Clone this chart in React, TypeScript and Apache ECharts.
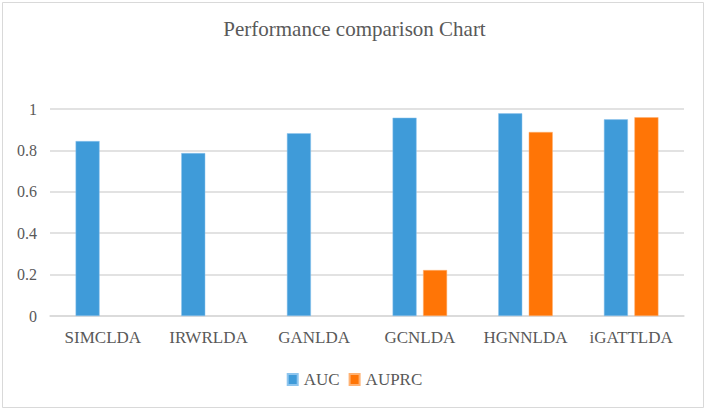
import React, { useEffect, useRef } from "react";
import * as echarts from "echarts";

const categories = ["SIMCLDA", "IRWRLDA", "GANLDA", "GCNLDA", "HGNNLDA", "iGATTLDA"];
const aucValues = [0.845, 0.787, 0.883, 0.958, 0.979, 0.95];
const auprcValues = [null, null, null, 0.222, 0.889, 0.96];
const yTicks = { min: 0, max: 1, interval: 0.2 };

const FONT = "'Liberation Serif', 'Times New Roman', serif";
const TEXT = "#595959";

export default function App() {
  const ref = useRef<HTMLDivElement>(null);
  useEffect(() => {
    if (!ref.current) return;
    const chart = echarts.init(ref.current, null, { renderer: "svg" });
    chart.setOption({
      animation: false,
      backgroundColor: "#ffffff",
      textStyle: { fontFamily: FONT },
      title: {
        text: "Performance comparison Chart",
        left: "center",
        top: 13,
        textStyle: { fontFamily: FONT, fontSize: 21, fontWeight: "normal", color: TEXT },
      },
      graphic: [
        {
          type: "rect",
          shape: { x: 2.5, y: 2.5, width: 701, height: 405 },
          style: { fill: "none", stroke: "#d9d9d9", lineWidth: 1 },
          silent: true,
        },
      ],
      legend: {
        data: ["AUC", "AUPRC"],
        left: "center",
        top: 366,
        itemWidth: 10,
        itemHeight: 11,
        itemGap: 9,
        icon: "rect",
        textStyle: { fontFamily: FONT, fontSize: 17, color: TEXT, padding: [0, 0, 0, 1] },
      },
      grid: { left: 50, right: 25, top: 109, bottom: 94, containLabel: false },
      xAxis: {
        type: "category",
        data: categories,
        axisLine: { lineStyle: { color: "#d9d9d9", width: 1.5 } },
        axisTick: { show: false },
        axisLabel: {
          interval: 0,
          hideOverlap: false,
          fontFamily: FONT,
          fontSize: 17,
          color: TEXT,
          margin: 13,
        },
      },
      yAxis: {
        type: "value",
        min: yTicks.min,
        max: yTicks.max,
        interval: yTicks.interval,
        axisLine: { show: false },
        axisTick: { show: false },
        splitLine: { lineStyle: { color: "#d9d9d9", width: 1.5 } },
        axisLabel: { fontFamily: FONT, fontSize: 16, color: TEXT, margin: 13 },
      },
      series: [
        {
          name: "AUC",
          type: "bar",
          data: aucValues,
          barWidth: 24,
          barGap: "27%",
          itemStyle: { color: "#3f9bd9", borderColor: "#8ec5ee", borderWidth: 0.5 },
        },
        {
          name: "AUPRC",
          type: "bar",
          data: auprcValues,
          barWidth: 24,
          itemStyle: { color: "#ff7506", borderColor: "#ffb273", borderWidth: 0.5 },
        },
      ],
    });
    return () => chart.dispose();
  }, []);
  return (
    <div
      ref={ref}
      style={{ position: "fixed", left: 0, top: 0, width: 709, height: 410 }}
    />
  );
}
